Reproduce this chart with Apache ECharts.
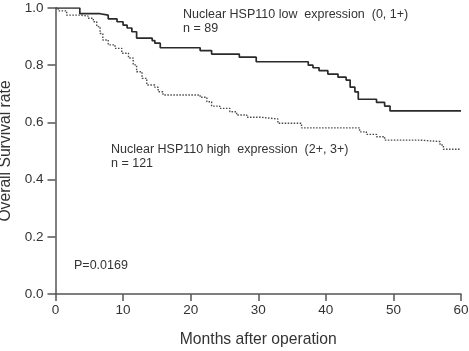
<!DOCTYPE html>
<html>
<head>
<meta charset="utf-8">
<script src="https://cdn.jsdelivr.net/npm/echarts@6/dist/echarts.min.js"></script>
<style>
  html, body { margin: 0; padding: 0; background: #fff; }
  #main { width: 469px; height: 351px; }
</style>
</head>
<body>
<div id="main"></div>
<script>
// Kaplan-Meier curves
var lowMonths = [0, 3.6, 6.6, 7.8, 9.1, 10.0, 10.6, 11.3, 12.0, 14.3, 14.7, 15.5, 21.4, 23.1, 27.2, 29.7,
  37.4, 38.1, 39.0, 40.3, 41.8, 43.0, 43.6, 44.3, 44.8, 47.5, 48.7, 49.5, 60];
var lowSurv = [1.0, 0.98, 0.975, 0.962, 0.952, 0.94, 0.93, 0.917, 0.895, 0.886, 0.877, 0.861, 0.851, 0.839, 0.828, 0.812,
  0.80, 0.791, 0.781, 0.769, 0.758, 0.748, 0.723, 0.707, 0.681, 0.670, 0.657, 0.640, 0.640];

var highMonths = [0, 0.4, 1.65, 3.6, 4.8, 5.6, 6.1, 6.6, 7.0, 7.8, 8.8, 9.8, 10.8, 11.5, 12.0, 12.8, 13.5, 14.7, 15.2, 15.9,
  21.4, 22.4, 23.1, 24.3, 25.8, 26.8, 28.3, 30.3, 32.9, 36.4, 45.0, 46.0, 47.5, 48.7, 53.9, 56.9, 57.4, 60];
var highSurv = [1.0, 0.99, 0.975, 0.972, 0.964, 0.952, 0.935, 0.911, 0.888, 0.871, 0.859, 0.842, 0.825, 0.801, 0.777, 0.754, 0.731, 0.723, 0.707, 0.696,
  0.688, 0.672, 0.657, 0.649, 0.637, 0.626, 0.618, 0.612, 0.597, 0.581, 0.567, 0.558, 0.55, 0.538, 0.533, 0.521, 0.506, 0.506];

function pairs(xs, ys) {
  var out = [];
  for (var i = 0; i < xs.length; i++) out.push([xs[i], ys[i]]);
  return out;
}

var font = 'Liberation Sans, Arial, sans-serif';
var chart = echarts.init(document.getElementById('main'));

var option = {
  backgroundColor: '#fff',
  animation: false,
  grid: { left: 55.5, right: 8, top: 8, bottom: 57, containLabel: false, outerBoundsMode: 'none' },
  xAxis: {
    type: 'value',
    min: 0, max: 60, interval: 10,
    name: 'Months after operation',
    nameLocation: 'middle',
    nameGap: 38,
    nameTextStyle: { fontFamily: font, fontSize: 15.7, color: '#333' },
    axisLine: { lineStyle: { color: '#555', width: 1.5 } },
    axisTick: { inside: false, length: 7, lineStyle: { color: '#555', width: 1.5 } },
    axisLabel: { fontFamily: font, fontSize: 13.5, color: '#333', margin: 9 },
    splitLine: { show: false }
  },
  yAxis: {
    type: 'value',
    min: 0, max: 1, interval: 0.2,
    name: 'Overall Survival rate',
    nameLocation: 'middle',
    nameGap: 40,
    nameTextStyle: { fontFamily: font, fontSize: 15.7, color: '#333' },
    axisLine: { show: true, lineStyle: { color: '#555', width: 1.5 } },
    axisTick: { show: true, length: 8, lineStyle: { color: '#555', width: 1.5 } },
    axisLabel: {
      fontFamily: font, fontSize: 13.5, color: '#333', margin: 12,
      formatter: function (v) { return v.toFixed(1); }
    },
    splitLine: { show: false }
  },
  series: [
    {
      name: 'low',
      type: 'line',
      step: 'end',
      data: pairs(lowMonths, lowSurv),
      showSymbol: false,
      lineStyle: { color: '#2a2a2a', width: 1.7 }
    },
    {
      name: 'high',
      type: 'line',
      step: 'end',
      data: pairs(highMonths, highSurv),
      showSymbol: false,
      lineStyle: { color: '#4a4a4a', width: 1.4, type: [1.5, 1.5] }
    }
  ],
  graphic: [
    { type: 'text', left: 183, top: 8,
      style: { text: 'Nuclear HSP110 low  expression  (0, 1+)', font: '12.5px ' + font, fill: '#333' } },
    { type: 'text', left: 183, top: 22,
      style: { text: 'n = 89', font: '12.5px ' + font, fill: '#333' } },
    { type: 'text', left: 111, top: 143,
      style: { text: 'Nuclear HSP110 high  expression  (2+, 3+)', font: '12.5px ' + font, fill: '#333' } },
    { type: 'text', left: 111, top: 157,
      style: { text: 'n = 121', font: '12.5px ' + font, fill: '#333' } },
    { type: 'text', left: 74, top: 259,
      style: { text: 'P=0.0169', font: '12.5px ' + font, fill: '#333' } }
  ]
};

chart.setOption(option);
</script>
</body>
</html>
